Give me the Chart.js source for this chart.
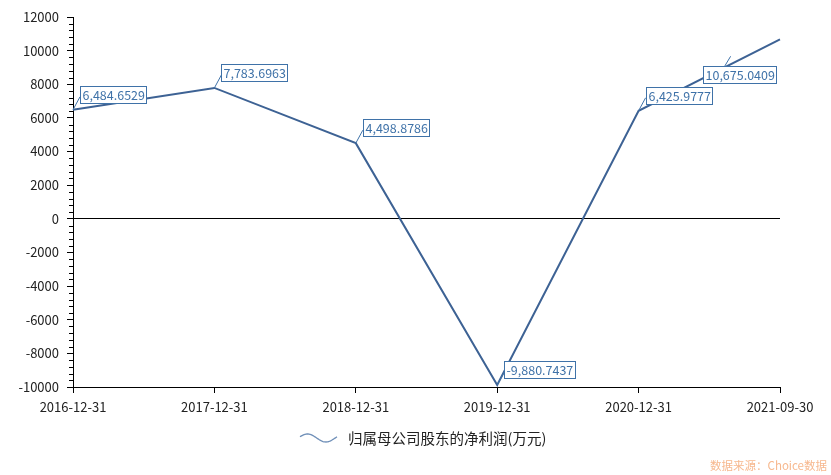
<!DOCTYPE html>
<html><head><meta charset="utf-8">
<script src="https://cdn.jsdelivr.net/npm/chart.js@4.4.0/dist/chart.umd.min.js"></script>
<style>
html,body{margin:0;padding:0;background:#fff;}
#wrap{position:relative;width:831px;height:475px;}
#src{position:absolute;right:4px;bottom:2px;font:11.5px "Noto Sans CJK SC",sans-serif;color:#f7b88e;}
</style></head>
<body>
<div id="wrap"><canvas id="c" width="831" height="475"></canvas><div id="src">数据来源：Choice数据</div></div>
<script>
const categories = ["2016-12-31","2017-12-31","2018-12-31","2019-12-31","2020-12-31","2021-09-30"];
const seriesName = "归属母公司股东的净利润(万元)";
const netProfit = [6484.6529, 7783.6963, 4498.8786, -9880.7437, 6425.9777, 10675.0409];
const yTicks = [-10000,-8000,-6000,-4000,-2000,0,2000,4000,6000,8000,10000,12000];

const FONT = '"Noto Sans CJK SC", sans-serif';
const LINE = '#3d6294';
const LBL = '#3f72a8';

const fmt = v => v.toLocaleString('en-US', {minimumFractionDigits:4, maximumFractionDigits:4});

const extras = {
  id: 'extras',
  afterDatasetsDraw(chart) {
    const ctx = chart.ctx;
    const ys = chart.scales.y;
    const area = chart.chartArea;
    ctx.save();
    // minor ticks
    ctx.strokeStyle = '#000'; ctx.lineWidth = 1;
    for (let v = ys.min; v <= ys.max; v += 400) {
      if (yTicks.includes(v)) continue;
      const py = Math.round(ys.getPixelForValue(v)) + 0.5;
      ctx.beginPath(); ctx.moveTo(area.left - 4, py); ctx.lineTo(area.left, py); ctx.stroke();
    }
    // data labels
    const meta = chart.getDatasetMeta(0);
    ctx.font = '12.5px ' + FONT;
    ctx.textBaseline = 'middle';
    meta.data.forEach((pt, i) => {
      const txt = fmt(netProfit[i]);
      const w = ctx.measureText(txt).width + 4;
      const h = 17;
      let bx, by, lx, ly;
      const last = i === meta.data.length - 1;
      if (last) {
        bx = pt.x - w - 4; by = pt.y + 27; lx = bx + w * 0.3; ly = by;
      } else {
        bx = pt.x + 7; by = pt.y - 7 - h; lx = bx; ly = by + h * 0.65;
      }
      ctx.strokeStyle = LBL; ctx.lineWidth = 1;
      ctx.beginPath();
      if (last) { ctx.moveTo(lx, ly); ctx.lineTo(lx + 6, ly - 10); }
      else { ctx.moveTo(pt.x, pt.y); ctx.lineTo(lx, ly); }
      ctx.stroke();
      ctx.fillStyle = '#fff';
      ctx.fillRect(Math.round(bx) + 0.5, Math.round(by) + 0.5, Math.round(w), h);
      ctx.strokeRect(Math.round(bx) + 0.5, Math.round(by) + 0.5, Math.round(w), h);
      ctx.fillStyle = LBL;
      ctx.textAlign = 'left';
      ctx.fillText(txt, Math.round(bx) + 2.5, Math.round(by) + h / 2 + 1);
    });
    // legend
    ctx.font = '14.5px ' + FONT;
    const tw = ctx.measureText(seriesName).width;
    const total = 37 + 11 + tw;
    const sx = Math.round((chart.width - total) / 2) + 8;
    const cy = 438;
    ctx.strokeStyle = '#6f8fb8'; ctx.lineWidth = 1.3;
    ctx.beginPath();
    for (let k = 0; k <= 37; k++) {
      const y = cy - 4 * Math.sin((k / 37) * Math.PI * 2 + Math.PI * 0.1);
      if (k === 0) ctx.moveTo(sx + k, y); else ctx.lineTo(sx + k, y);
    }
    ctx.stroke();
    ctx.fillStyle = '#222';
    ctx.textAlign = 'left';
    ctx.textBaseline = 'middle';
    ctx.fillText(seriesName, sx + 48, cy);
    ctx.restore();
  }
};

new Chart(document.getElementById('c'), {
  type: 'line',
  data: {
    labels: categories,
    datasets: [{
      label: seriesName,
      data: netProfit,
      borderColor: LINE,
      borderWidth: 2,
      pointRadius: 0,
      tension: 0,
      fill: false
    }]
  },
  options: {
    responsive: false,
    animation: false,
    layout: { padding: { left: 0, right: 51, top: 17, bottom: 58 } },
    plugins: {
      tooltip: { enabled: false },
      legend: { display: false }
    },
    scales: {
      x: {
        offset: false,
        border: { color: '#000', width: 1 },
        grid: { drawOnChartArea: false, tickLength: 6, color: '#000', tickColor: '#000' },
        ticks: { color: '#222', font: { size: 13, family: FONT }, maxRotation: 0, padding: 6 },
        afterFit: s => { s.height = 30; }
      },
      y: {
        min: -10000, max: 12000,
        border: { color: '#000', width: 1 },
        grid: {
          drawOnChartArea: true,
          color: c => (c.tick && c.tick.value === 0) ? '#000' : 'rgba(0,0,0,0)',
          tickColor: '#000', tickLength: 6
        },
        afterBuildTicks: s => { s.ticks = yTicks.map(v => ({ value: v })); },
        ticks: { color: '#222', font: { size: 13, family: FONT }, padding: 8, callback: v => String(v) },
        afterFit: s => { s.width = 73; }
      }
    }
  },
  plugins: [extras]
});
</script>
</body></html>
